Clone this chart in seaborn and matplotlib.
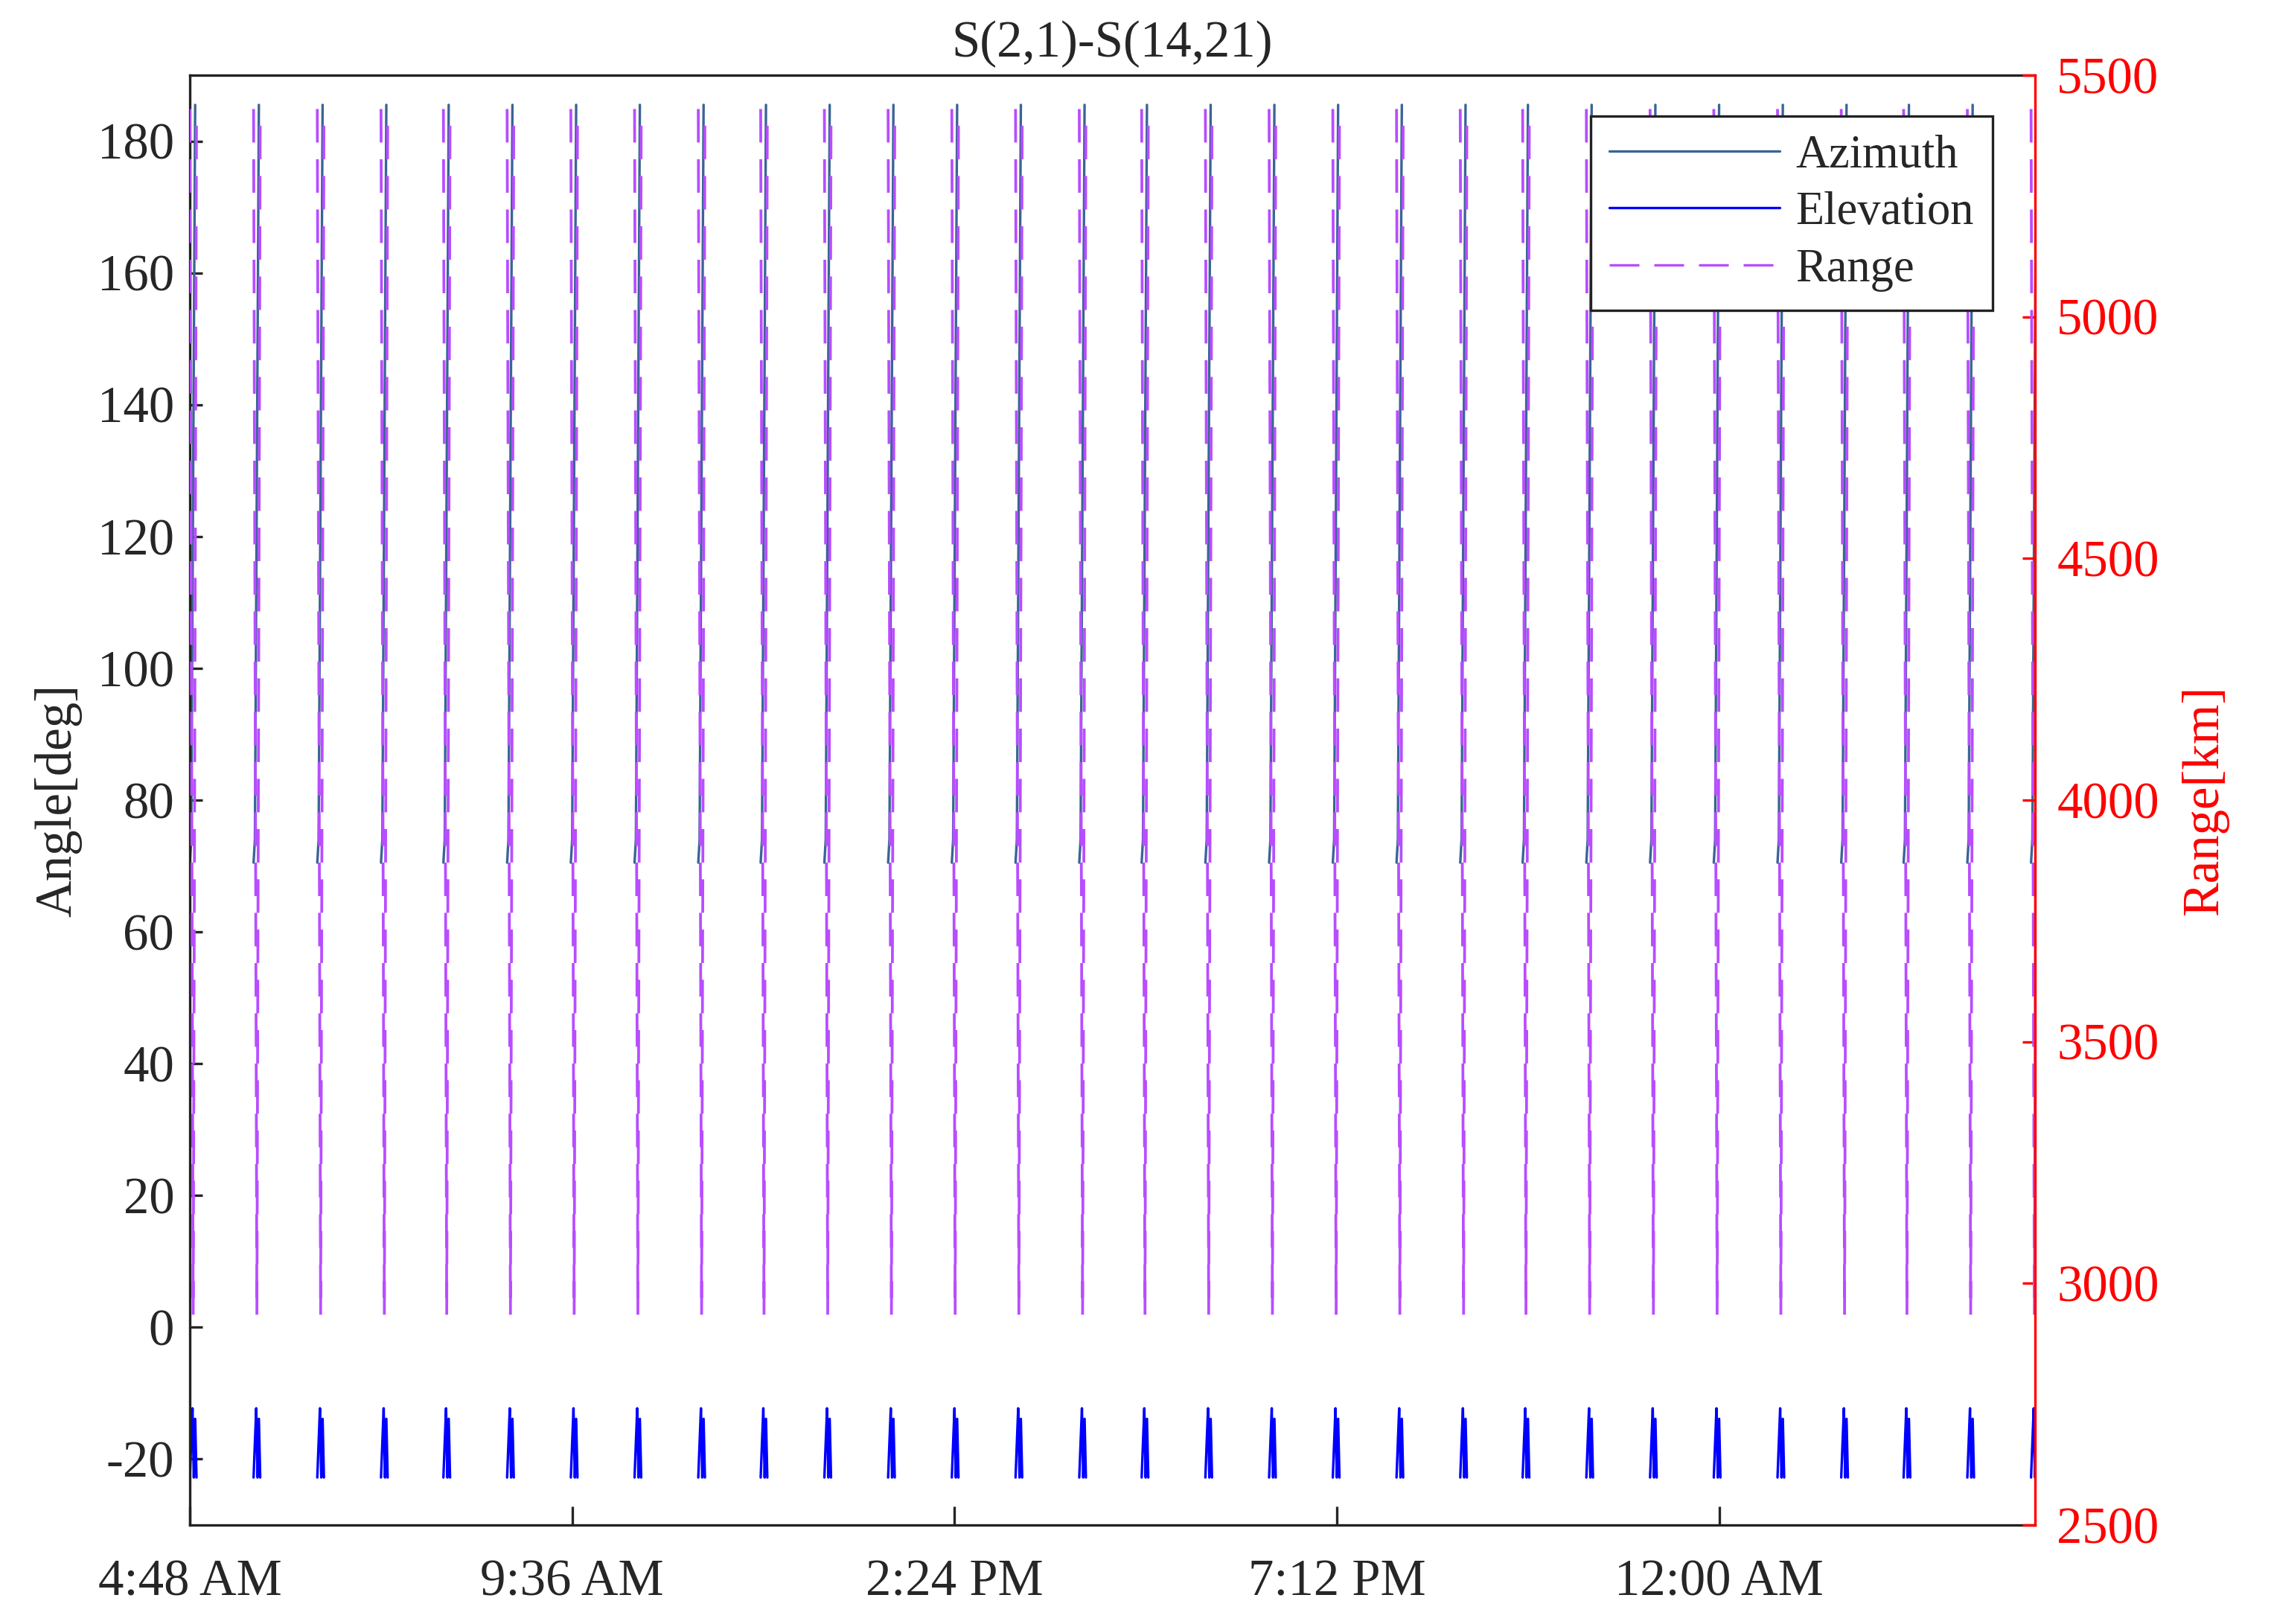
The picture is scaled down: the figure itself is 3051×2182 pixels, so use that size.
import pandas as pd
import seaborn as sns
import matplotlib
matplotlib.use("Agg")
import matplotlib.pyplot as plt
import matplotlib.dates as mdates
from matplotlib.lines import Line2D

# start time of each visibility pass (clock time, runs past midnight)
pass_starts = ["04:48", "05:36", "06:24", "07:12", "07:59", "08:47", "09:35", "10:23",
               "11:11", "11:58", "12:46", "13:34", "14:22", "15:10", "15:58", "16:45",
               "17:33", "18:21", "19:09", "19:57", "20:45", "21:32", "22:20", "23:08",
               "23:56", "00:44", "01:32", "02:19", "03:07", "03:55"]

az_offsets = [0.0, 1.0, 2.5, 4.0]
az_values = [70.5, 74.0, 130.0, 185.5]
el_offsets = [0.0, 1.0, 2.0, 3.0, 4.0, 5.0]
el_values = [-22.8, -17.5, -12.3, -22.8, -13.9, -22.8]
rng_offsets = [0.0, 2.5, 5.0]
rng_values = [5430, 2935, 5420]

tick_times = ["04:48", "09:36", "14:24", "19:12", "00:00"]
tick_labels = ["4:48 AM", "9:36 AM", "2:24 PM", "7:12 PM", "12:00 AM"]
x_start, x_end = "04:48", "03:58"


def clock(s):
    t = pd.Timestamp("2024-01-01 " + s)
    if t.hour < 4:
        t += pd.Timedelta(days=1)
    return t


def build(offsets, values, name):
    rows = []
    for i, s in enumerate(pass_starts):
        t0 = clock(s)
        for off, v in zip(offsets, values):
            rows.append({"pass": i, "time": t0 + pd.Timedelta(minutes=off), name: v})
    return pd.DataFrame(rows)


az_df = build(az_offsets, az_values, "Azimuth")
el_df = build(el_offsets, el_values, "Elevation")
rng_df = build(rng_offsets, rng_values, "Range")

az_color = "#3A6496"
el_color = "#0000FF"
rng_color = "#B84DFF"

sns.set_style("ticks")
plt.rcParams["font.family"] = ["Liberation Serif", "DejaVu Serif"]
plt.rcParams["axes.unicode_minus"] = False

fig = plt.figure(figsize=(3051 / 300, 2182 / 300), dpi=300)
ax = fig.add_axes([0.0836, 0.061, 0.8125, 0.8927])
ax2 = ax.twinx()

lw = 0.8
sns.lineplot(data=az_df, x="time", y="Azimuth", units="pass", estimator=None,
             color=az_color, lw=lw, ax=ax)
sns.lineplot(data=el_df, x="time", y="Elevation", units="pass", estimator=None,
             color=el_color, lw=lw, ax=ax)
sns.lineplot(data=rng_df, x="time", y="Range", units="pass", estimator=None,
             color=rng_color, lw=0.9, dashes=False, ax=ax2)
for ln in ax2.get_lines():
    ln.set_linestyle((0, (12, 6)))

ax.set_xlim(clock(x_start), clock(x_end))
ax.set_ylim(-30, 190)
ax.set_yticks(range(-20, 181, 20))
ax2.set_ylim(2500, 5500)
ax2.set_yticks(range(2500, 5501, 500))

ax.set_xticks([mdates.date2num(clock(t)) for t in tick_times])
ax.set_xticklabels(tick_labels)

fs = 16.5
ax.set_title("S(2,1)-S(14,21)", fontsize=fs, pad=6)
ax.set_xlabel("")
ax.set_ylabel("Angle[deg]", fontsize=fs, labelpad=5)
ax2.set_ylabel("Range[km]", fontsize=fs, color="red", labelpad=7)

ax.tick_params(axis="x", direction="in", length=6, width=0.8, labelsize=fs, pad=11)
ax.tick_params(axis="y", direction="in", length=4, width=0.8, labelsize=fs, pad=5)
ax2.tick_params(axis="y", direction="in", length=4, width=0.8, labelsize=fs, pad=7,
                colors="red")

for sp in ["left", "bottom", "top"]:
    ax.spines[sp].set_visible(True)
    ax.spines[sp].set_linewidth(0.8)
    ax.spines[sp].set_color("#222222")
    ax2.spines[sp].set_visible(False)
ax.spines["right"].set_visible(False)
ax2.spines["right"].set_visible(True)
ax2.spines["right"].set_color("red")
ax2.spines["right"].set_linewidth(0.8)

# legend collects lines from both y-axes
handles = [Line2D([], [], color=az_color, lw=lw),
           Line2D([], [], color=el_color, lw=lw),
           Line2D([], [], color=rng_color, lw=lw, linestyle=(0, (12, 6)))]
leg = ax2.legend(handles, ["Azimuth", "Elevation", "Range"], loc="upper right",
                 bbox_to_anchor=(0.977, 0.972), borderaxespad=0, fontsize=15,
                 frameon=True, fancybox=False, handlelength=3.65, labelspacing=0.3,
                 borderpad=0.4, handletextpad=0.35)
leg.get_frame().set_edgecolor("#222222")
leg.get_frame().set_linewidth(0.8)
leg.get_frame().set_alpha(1)

plt.savefig("out.png", dpi=300)
